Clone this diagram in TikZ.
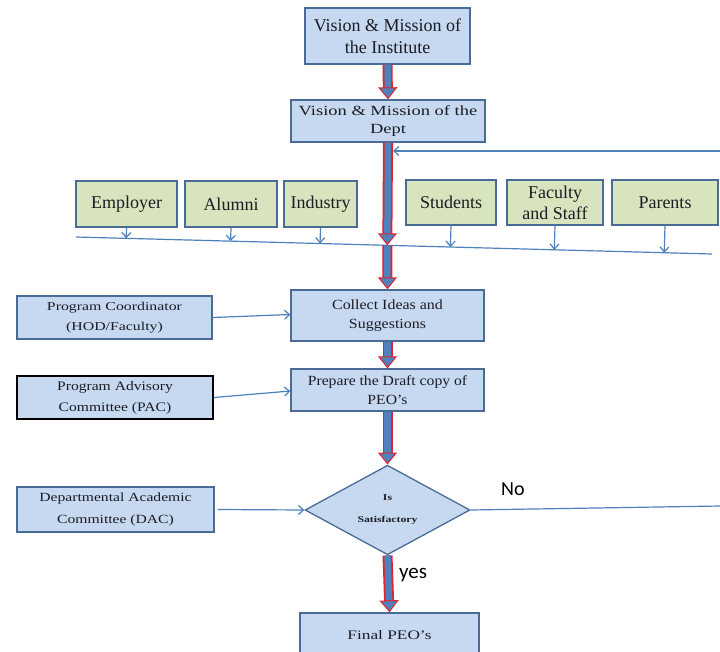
\documentclass[tikz,border=0pt]{standalone}
\usepackage{fontspec}
\setmainfont{Liberation Serif}
\newfontfamily\labelfont{Carlito}
\usetikzlibrary{arrows.meta,shapes.geometric,calc}

\definecolor{boxfill}{HTML}{C6D9F1}
\definecolor{boxline}{HTML}{4A6B96}
\definecolor{greenfill}{HTML}{D7E4BD}
\definecolor{flowblue}{HTML}{4F81BD}
\definecolor{flowred}{HTML}{E3232B}
\definecolor{textdark}{HTML}{1C1C24}

\newcommand{\fsz}[3]{\fontsize{#1}{#2}\selectfont\addfontfeatures{FakeStretch=#3}}

\tikzset{
  box/.style={draw=boxline, fill=boxfill, line width=1.3pt, inner sep=0pt,
    align=center, text=textdark},
  greenbox/.style={box, fill=greenfill, minimum height=46pt,
    font=\fsz{18}{21}{1.0}},
  sidebox/.style={box, minimum width=196pt, minimum height=44pt},
  decision/.style={diamond, draw=boxline, fill=boxfill, line width=1.3pt,
    inner sep=0pt, minimum width=165pt, minimum height=60pt, align=center,
    text=textdark},
  thinarrow/.style={draw=flowblue, line width=1.2pt,
    -{Straight Barb[length=5pt,width=9pt]}},
  bigarrow/.style={draw=flowblue, line width=6.5pt,
    -{Triangle[width=19pt,length=12pt,color=flowred,fill=flowblue,line width=1pt]},
    preaction={draw=flowred, line width=10pt, arrows=-, shorten >=11pt}},
  plainline/.style={draw=flowblue, line width=1.2pt},
}

\begin{document}
\begin{tikzpicture}[x=1pt,y=-1pt]
\clip (0,0) rectangle (720,651);
\fill[white] (0,0) rectangle (720,651);

% main column
\node[box, minimum width=165pt, minimum height=56pt, font=\fsz{18}{22}{1.0}]
  (inst) at (387.5,36) {Vision \& Mission of\\the Institute};
\node[box, minimum width=194pt, minimum height=42pt, font=\fsz{14}{18}{1.32}]
  (dept) at (388,121) {Vision \& Mission of the\\Dept};

% stakeholders
\node[greenbox, minimum width=101pt] (emp) at (126.5,204) {Employer};
\node[greenbox, minimum width=92pt]  (alu) at (231,204) {Alumni};
\node[greenbox, minimum width=73pt]  (ind) at (320.5,204) {Industry};
\node[greenbox, minimum width=90pt, minimum height=45pt] (stu) at (451,202.5) {Students};
\node[greenbox, minimum width=96pt, minimum height=45pt] (fac) at (555,202.5) {Faculty\\and Staff};
\node[greenbox, minimum width=106pt, minimum height=45pt] (par) at (665,202.5) {Parents};

% collecting line
\coordinate (hlA) at (76,237);
\coordinate (hlB) at (712,254);
\draw[plainline] (hlA) -- (hlB);
\coordinate (hlmid) at ($(hlA)!(387.5,240)!(hlB)$);

\foreach \n in {emp,alu,ind,stu,fac,par}
  \draw[thinarrow] (\n.south) -- ($(hlA)!(\n.south)!(hlB)$);

\node[box, minimum width=193pt, minimum height=51pt, font=\fsz{14}{19}{1.14}]
  (coll) at (387.5,315.5) {Collect Ideas and\\Suggestions};
\node[box, minimum width=193pt, minimum height=42pt, font=\fsz{14}{19}{1.12}]
  (draft) at (387.5,390) {Prepare the Draft copy of\\PEO's};
\node[decision, font=\bfseries\fsz{9}{22}{1.3}]
  (sat) at (387.5,510) {Is\\Satisfactory};
\node[box, minimum width=179pt, minimum height=44pt, font=\fsz{13}{18}{1.33}]
  (final) at (389.5,635) {Final PEO's};

% side committees
\node[sidebox, minimum width=195pt, minimum height=43pt, font=\fsz{12}{20}{1.32}]
  (pc) at (114.5,317.5) {Program Coordinator\\(HOD/Faculty)};
\node[sidebox, draw=black, line width=2.2pt, minimum height=43pt, font=\fsz{13}{21}{1.2}]
  (pac) at (115,397.5) {Program Advisory\\Committee (PAC)};
\node[sidebox, minimum width=197pt, minimum height=45pt, font=\fsz{12.5}{22}{1.25}]
  (dac) at (115.5,509.5) {Departmental Academic\\Committee (DAC)};

% main flow
\draw[bigarrow] (inst.south) -- (dept.north);
\draw[bigarrow] (dept.south) -- (hlmid);
\draw[bigarrow] (hlmid) -- (coll.north);
\draw[bigarrow] (coll.south) -- (draft.north);
\draw[bigarrow] (draft.south) -- (sat.north);
\draw[bigarrow] (sat.south) -- (final.north);

% feedback from the right
\coordinate (fbR) at (720,151);
\coordinate (fbL) at (393,151);
\draw[thinarrow] (fbR) -- (fbL);

% inputs from the committees
\draw[thinarrow] (pc.east) -- ($(coll.west)+(0,-1)$);
\draw[thinarrow] (pac.east) -- ($(draft.west)+(0,1)$);
\draw[thinarrow] ($(dac.east)+(3,0)$) -- (sat.west);

% rejection branch
\coordinate (noR) at (720,506);
\draw[plainline] (sat.east) -- (noR);
\node[font=\labelfont\fontsize{20}{24}\selectfont, anchor=south west, inner sep=0pt]
  (nolab) at (501,496) {No};
\node[font=\labelfont\fontsize{21}{25}\selectfont, anchor=west, inner sep=0pt]
  (yeslab) at (399,575) {yes};
\end{tikzpicture}
\end{document}
